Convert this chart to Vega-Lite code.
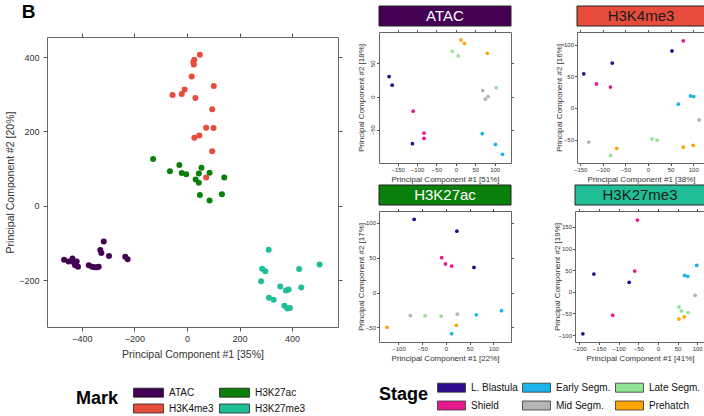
{
  "$schema": "https://vega.github.io/schema/vega-lite/v6.json",
  "padding": {"left": 4, "top": 2, "right": 0, "bottom": 0},
  "background": "#ffffff",
  "config": {
    "font": "Liberation Sans",
    "view": {"stroke": "#666666", "strokeWidth": 1},
    "axis": {
      "grid": false, "domain": false, "tickColor": "#555555", "tickSize": 2.5,
      "labelColor": "#333333", "titleColor": "#333333", "titleFontWeight": "normal",
      "labelFontSize": 6, "titleFontSize": 8, "labelPadding": 1, "titlePadding": 2.5,
      "labelFont": "Liberation Sans", "titleFont": "Liberation Sans"
    },
    "axisLeft": {"minExtent": 11, "maxExtent": 11},
    "legend": {"padding": 0}
  },
  "datasets": {
    "main": [
      {"Mark": "ATAC", "PC1": -468, "PC2": -145}, {"Mark": "ATAC", "PC1": -451, "PC2": -150},
      {"Mark": "ATAC", "PC1": -436, "PC2": -142}, {"Mark": "ATAC", "PC1": -432, "PC2": -152},
      {"Mark": "ATAC", "PC1": -420, "PC2": -150}, {"Mark": "ATAC", "PC1": -426, "PC2": -160},
      {"Mark": "ATAC", "PC1": -415, "PC2": -164}, {"Mark": "ATAC", "PC1": -374, "PC2": -160},
      {"Mark": "ATAC", "PC1": -362, "PC2": -164}, {"Mark": "ATAC", "PC1": -352, "PC2": -165},
      {"Mark": "ATAC", "PC1": -343, "PC2": -165}, {"Mark": "ATAC", "PC1": -336, "PC2": -164},
      {"Mark": "ATAC", "PC1": -317, "PC2": -96}, {"Mark": "ATAC", "PC1": -330, "PC2": -119},
      {"Mark": "ATAC", "PC1": -326, "PC2": -127}, {"Mark": "ATAC", "PC1": -297, "PC2": -135},
      {"Mark": "ATAC", "PC1": -235, "PC2": -137}, {"Mark": "ATAC", "PC1": -226, "PC2": -144},
      {"Mark": "H3K27ac", "PC1": -129, "PC2": 126}, {"Mark": "H3K27ac", "PC1": -29, "PC2": 110},
      {"Mark": "H3K27ac", "PC1": -65, "PC2": 93}, {"Mark": "H3K27ac", "PC1": -20, "PC2": 88},
      {"Mark": "H3K27ac", "PC1": -3, "PC2": 85}, {"Mark": "H3K27ac", "PC1": 55, "PC2": 102},
      {"Mark": "H3K27ac", "PC1": 45, "PC2": 87}, {"Mark": "H3K27ac", "PC1": 86, "PC2": 89},
      {"Mark": "H3K27ac", "PC1": 33, "PC2": 71}, {"Mark": "H3K27ac", "PC1": 45, "PC2": 62},
      {"Mark": "H3K27ac", "PC1": 142, "PC2": 76}, {"Mark": "H3K27ac", "PC1": 49, "PC2": 29},
      {"Mark": "H3K27ac", "PC1": 133, "PC2": 31}, {"Mark": "H3K27ac", "PC1": 86, "PC2": 14},
      {"Mark": "H3K4me3", "PC1": 49, "PC2": 406}, {"Mark": "H3K4me3", "PC1": 28, "PC2": 393},
      {"Mark": "H3K4me3", "PC1": 24, "PC2": 387}, {"Mark": "H3K4me3", "PC1": 26, "PC2": 380},
      {"Mark": "H3K4me3", "PC1": 18, "PC2": 348}, {"Mark": "H3K4me3", "PC1": -9, "PC2": 313},
      {"Mark": "H3K4me3", "PC1": -20, "PC2": 301}, {"Mark": "H3K4me3", "PC1": -55, "PC2": 298},
      {"Mark": "H3K4me3", "PC1": 32, "PC2": 290}, {"Mark": "H3K4me3", "PC1": 102, "PC2": 322},
      {"Mark": "H3K4me3", "PC1": 96, "PC2": 260}, {"Mark": "H3K4me3", "PC1": 73, "PC2": 210},
      {"Mark": "H3K4me3", "PC1": 101, "PC2": 209}, {"Mark": "H3K4me3", "PC1": 47, "PC2": 189},
      {"Mark": "H3K4me3", "PC1": 28, "PC2": 183}, {"Mark": "H3K4me3", "PC1": 96, "PC2": 147},
      {"Mark": "H3K4me3", "PC1": 73, "PC2": 76},
      {"Mark": "H3K27me3", "PC1": 311, "PC2": -118}, {"Mark": "H3K27me3", "PC1": 505, "PC2": -158},
      {"Mark": "H3K27me3", "PC1": 286, "PC2": -169}, {"Mark": "H3K27me3", "PC1": 298, "PC2": -176},
      {"Mark": "H3K27me3", "PC1": 282, "PC2": -203}, {"Mark": "H3K27me3", "PC1": 427, "PC2": -170},
      {"Mark": "H3K27me3", "PC1": 435, "PC2": -220}, {"Mark": "H3K27me3", "PC1": 355, "PC2": -217},
      {"Mark": "H3K27me3", "PC1": 377, "PC2": -228}, {"Mark": "H3K27me3", "PC1": 387, "PC2": -225},
      {"Mark": "H3K27me3", "PC1": 312, "PC2": -247}, {"Mark": "H3K27me3", "PC1": 330, "PC2": -253},
      {"Mark": "H3K27me3", "PC1": 371, "PC2": -269}, {"Mark": "H3K27me3", "PC1": 382, "PC2": -276},
      {"Mark": "H3K27me3", "PC1": 392, "PC2": -275}
    ],
    "stage": [
      {"Mark": "ATAC", "Stage": "L. Blastula", "PC1": -172, "PC2": 30},
      {"Mark": "ATAC", "Stage": "L. Blastula", "PC1": -164, "PC2": 17},
      {"Mark": "ATAC", "Stage": "L. Blastula", "PC1": -112, "PC2": -71},
      {"Mark": "ATAC", "Stage": "Shield", "PC1": -110, "PC2": -22},
      {"Mark": "ATAC", "Stage": "Shield", "PC1": -82, "PC2": -55},
      {"Mark": "ATAC", "Stage": "Shield", "PC1": -82, "PC2": -63},
      {"Mark": "ATAC", "Stage": "Early Segm.", "PC1": 68, "PC2": -56},
      {"Mark": "ATAC", "Stage": "Early Segm.", "PC1": 102, "PC2": -72},
      {"Mark": "ATAC", "Stage": "Early Segm.", "PC1": 120, "PC2": -87},
      {"Mark": "ATAC", "Stage": "Mid Segm.", "PC1": 69, "PC2": 9},
      {"Mark": "ATAC", "Stage": "Mid Segm.", "PC1": 76, "PC2": -4},
      {"Mark": "ATAC", "Stage": "Mid Segm.", "PC1": 83, "PC2": 0},
      {"Mark": "ATAC", "Stage": "Late Segm.", "PC1": -9, "PC2": 68},
      {"Mark": "ATAC", "Stage": "Late Segm.", "PC1": 6, "PC2": 61},
      {"Mark": "ATAC", "Stage": "Late Segm.", "PC1": 104, "PC2": 13},
      {"Mark": "ATAC", "Stage": "Prehatch", "PC1": 13, "PC2": 85},
      {"Mark": "ATAC", "Stage": "Prehatch", "PC1": 22, "PC2": 80},
      {"Mark": "ATAC", "Stage": "Prehatch", "PC1": 81, "PC2": 65},
      {"Mark": "H3K4me3", "Stage": "L. Blastula", "PC1": -142, "PC2": 54},
      {"Mark": "H3K4me3", "Stage": "L. Blastula", "PC1": -79, "PC2": 71},
      {"Mark": "H3K4me3", "Stage": "L. Blastula", "PC1": 53, "PC2": 90},
      {"Mark": "H3K4me3", "Stage": "Shield", "PC1": -114, "PC2": 38},
      {"Mark": "H3K4me3", "Stage": "Shield", "PC1": -83, "PC2": 33},
      {"Mark": "H3K4me3", "Stage": "Shield", "PC1": 78, "PC2": 106},
      {"Mark": "H3K4me3", "Stage": "Early Segm.", "PC1": 67, "PC2": 6},
      {"Mark": "H3K4me3", "Stage": "Early Segm.", "PC1": 94, "PC2": 19},
      {"Mark": "H3K4me3", "Stage": "Early Segm.", "PC1": 101, "PC2": 18},
      {"Mark": "H3K4me3", "Stage": "Mid Segm.", "PC1": -131, "PC2": -54},
      {"Mark": "H3K4me3", "Stage": "Mid Segm.", "PC1": 113, "PC2": -19},
      {"Mark": "H3K4me3", "Stage": "Late Segm.", "PC1": -83, "PC2": -75},
      {"Mark": "H3K4me3", "Stage": "Late Segm.", "PC1": 9, "PC2": -49},
      {"Mark": "H3K4me3", "Stage": "Late Segm.", "PC1": 20, "PC2": -51},
      {"Mark": "H3K4me3", "Stage": "Prehatch", "PC1": -69, "PC2": -64},
      {"Mark": "H3K4me3", "Stage": "Prehatch", "PC1": 78, "PC2": -62},
      {"Mark": "H3K4me3", "Stage": "Prehatch", "PC1": 100, "PC2": -59},
      {"Mark": "H3K27ac", "Stage": "L. Blastula", "PC1": -67, "PC2": 105},
      {"Mark": "H3K27ac", "Stage": "L. Blastula", "PC1": 23, "PC2": 88},
      {"Mark": "H3K27ac", "Stage": "L. Blastula", "PC1": 59, "PC2": 36},
      {"Mark": "H3K27ac", "Stage": "Shield", "PC1": -9, "PC2": 50},
      {"Mark": "H3K27ac", "Stage": "Shield", "PC1": -1, "PC2": 41},
      {"Mark": "H3K27ac", "Stage": "Shield", "PC1": 12, "PC2": 38},
      {"Mark": "H3K27ac", "Stage": "Early Segm.", "PC1": 64, "PC2": -32},
      {"Mark": "H3K27ac", "Stage": "Early Segm.", "PC1": 117, "PC2": -26},
      {"Mark": "H3K27ac", "Stage": "Early Segm.", "PC1": 12, "PC2": -59},
      {"Mark": "H3K27ac", "Stage": "Mid Segm.", "PC1": -75, "PC2": -33},
      {"Mark": "H3K27ac", "Stage": "Mid Segm.", "PC1": 24, "PC2": -31},
      {"Mark": "H3K27ac", "Stage": "Late Segm.", "PC1": -44, "PC2": -33},
      {"Mark": "H3K27ac", "Stage": "Late Segm.", "PC1": -10, "PC2": -34},
      {"Mark": "H3K27ac", "Stage": "Prehatch", "PC1": -124, "PC2": -50},
      {"Mark": "H3K27ac", "Stage": "Prehatch", "PC1": 22, "PC2": -47},
      {"Mark": "H3K27me3", "Stage": "L. Blastula", "PC1": -191, "PC2": -97},
      {"Mark": "H3K27me3", "Stage": "L. Blastula", "PC1": -163, "PC2": 41},
      {"Mark": "H3K27me3", "Stage": "L. Blastula", "PC1": -73, "PC2": 22},
      {"Mark": "H3K27me3", "Stage": "Shield", "PC1": -115, "PC2": -54},
      {"Mark": "H3K27me3", "Stage": "Shield", "PC1": -59, "PC2": 48},
      {"Mark": "H3K27me3", "Stage": "Shield", "PC1": -52, "PC2": 166},
      {"Mark": "H3K27me3", "Stage": "Early Segm.", "PC1": 99, "PC2": 61},
      {"Mark": "H3K27me3", "Stage": "Early Segm.", "PC1": 68, "PC2": 38},
      {"Mark": "H3K27me3", "Stage": "Early Segm.", "PC1": 76, "PC2": 36},
      {"Mark": "H3K27me3", "Stage": "Mid Segm.", "PC1": 95, "PC2": -8},
      {"Mark": "H3K27me3", "Stage": "Late Segm.", "PC1": 54, "PC2": -35},
      {"Mark": "H3K27me3", "Stage": "Late Segm.", "PC1": 60, "PC2": -44},
      {"Mark": "H3K27me3", "Stage": "Late Segm.", "PC1": 77, "PC2": -48},
      {"Mark": "H3K27me3", "Stage": "Prehatch", "PC1": 54, "PC2": -63},
      {"Mark": "H3K27me3", "Stage": "Prehatch", "PC1": 67, "PC2": -58}
    ]
  },
  "hconcat": [
    {
      "vconcat": [
        {
          "width": 291, "height": 20, "view": {"stroke": null},
          "data": {"values": [{"panel": "B", "v": 0}]},
          "mark": {"type": "point", "opacity": 0},
          "encoding": {
            "y": {"field": "v", "type": "quantitative",
                  "axis": {"orient": "left", "title": "B", "labels": false, "ticks": false, "domain": false, "minExtent": 0, "maxExtent": 0,
                           "titleAngle": 0, "titleX": -19, "titleY": 11, "titleAlign": "center", "titleBaseline": "alphabetic",
                           "titleFontSize": 19, "titleFontWeight": "bold", "titleColor": "#000000"}}
          }
        },
        {
          "width": 291, "height": 290,
          "data": {"name": "main"},
          "layer": [
            {
              "mark": {"type": "point", "filled": true, "opacity": 1, "size": 36},
              "encoding": {
                "x": {"field": "PC1", "type": "quantitative", "scale": {"domain": [-533, 575], "nice": false, "zero": false},
                      "axis": {"orient": "bottom", "values": [-400, -200, 0, 200, 400], "title": "Principal Component #1 [35%]", "tickSize": 4, "labelFontSize": 9, "titleFontSize": 10.5, "labelPadding": 3, "titlePadding": 6}},
                "y": {"field": "PC2", "type": "quantitative", "scale": {"domain": [-326, 454], "nice": false, "zero": false},
                      "axis": {"orient": "left", "values": [-200, 0, 200, 400], "title": "Principal Component #2 [20%]", "tickSize": 4, "labelFontSize": 9, "titleFontSize": 10.5, "labelPadding": 4, "titlePadding": 6, "minExtent": 26, "maxExtent": 26}},
                "color": {"field": "Mark", "type": "nominal",
                          "scale": {"domain": ["ATAC", "H3K4me3", "H3K27ac", "H3K27me3"], "range": ["#440154", "#e74c3c", "#0a800a", "#1fbe96"]},
                          "legend": {"orient": "none", "legendX": 29, "legendY": 347, "title": "Mark", "titleOrient": "left", "titleFontSize": 18, "titleFontWeight": "bold", "titleColor": "#000000", "titlePadding": 21, "columns": 2, "columnPadding": 3, "rowPadding": 1,
                                     "symbolType": "M-1.875,-0.5625H1.875V0.5625H-1.875Z", "symbolSize": 256, "symbolStrokeColor": "#222222", "symbolStrokeWidth": 0.8, "symbolOpacity": 1,
                                     "labelFontSize": 10, "labelOffset": 12, "labelColor": "#111111"}}
              }
            },
            {
              "mark": {"type": "point", "opacity": 0},
              "encoding": {
                "x": {"field": "PC1", "type": "quantitative", "axis": {"orient": "top", "values": [-400, -200, 0, 200, 400], "labels": false, "title": null, "tickSize": 4}},
                "y": {"field": "PC2", "type": "quantitative", "axis": {"orient": "right", "values": [-200, 0, 200, 400], "labels": false, "title": null, "tickSize": 4}}
              }
            }
          ],
          "resolve": {"axis": {"x": "independent", "y": "independent"}}
        }
      ],
      "spacing": 6,
      "resolve": {"scale": {"color": "independent"}, "legend": {"color": "independent"}}
    },
    {
      "vconcat": [
        {
          "hconcat": [
            {
              "vconcat": [
                {
                  "width": 132, "height": 20, "data": {"values": [{"Mark": "ATAC"}]}, "view": {"stroke": null},
                  "layer": [
                    {"mark": {"type": "rect", "stroke": "#222222", "strokeWidth": 1},
                     "encoding": {"x": {"field": "Mark", "type": "nominal", "axis": null, "scale": {"paddingInner": 0, "paddingOuter": 0}},
                                  "color": {"field": "Mark", "type": "nominal", "scale": {"domain": ["ATAC", "H3K27ac", "H3K4me3", "H3K27me3"], "range": ["#440154", "#0a800a", "#e74c3c", "#1fbe96"]}, "legend": null}}},
                    {"mark": {"type": "text", "fontSize": 15, "color": "#ffffff"},
                     "encoding": {"x": {"field": "Mark", "type": "nominal", "axis": null}, "text": {"field": "Mark"}}}
                  ]
                },
                {
                  "width": 132, "height": 131, "data": {"name": "stage"},
                  "transform": [{"filter": "datum.Mark === 'ATAC'"}],
                  "layer": [
                    {"mark": {"type": "point", "filled": true, "opacity": 1, "size": 14},
                     "encoding": {
                       "x": {"field": "PC1", "type": "quantitative", "scale": {"domain": [-198, 142], "nice": false, "zero": false}, "axis": {"orient": "bottom", "values": [-150, -100, -50, 0, 50, 100], "title": "Principal Component #1 [51%]"}},
                       "y": {"field": "PC2", "type": "quantitative", "scale": {"domain": [-100, 97], "nice": false, "zero": false}, "axis": {"orient": "left", "values": [-50, 0, 50], "title": "Principal Component #2 [18%]", "labelAngle": -90}},
                       "color": {"field": "Stage", "type": "nominal", "scale": {"domain": ["L. Blastula", "Shield", "Early Segm.", "Mid Segm.", "Late Segm.", "Prehatch"], "range": ["#2d0a8c", "#e6198c", "#1cb4e8", "#b5b5b5", "#93e593", "#ffa500"]}, "legend": null}
                     }},
                    {"mark": {"type": "point", "opacity": 0},
                     "encoding": {
                       "x": {"field": "PC1", "type": "quantitative", "axis": {"orient": "top", "values": [-150, -100, -50, 0, 50, 100], "labels": false, "title": null}},
                       "y": {"field": "PC2", "type": "quantitative", "axis": {"orient": "right", "values": [-50, 0, 50], "labels": false, "title": null}}
                     }}
                  ],
                  "resolve": {"axis": {"x": "independent", "y": "independent"}}
                }
              ],
              "spacing": 6, "bounds": "flush",
              "resolve": {"scale": {"color": "independent"}, "legend": {"color": "independent"}}
            },
            {
              "vconcat": [
                {
                  "width": 128, "height": 20, "data": {"values": [{"Mark": "H3K4me3"}]}, "view": {"stroke": null},
                  "layer": [
                    {"mark": {"type": "rect", "stroke": "#222222", "strokeWidth": 1},
                     "encoding": {"x": {"field": "Mark", "type": "nominal", "axis": null, "scale": {"paddingInner": 0, "paddingOuter": 0}},
                                  "color": {"field": "Mark", "type": "nominal", "scale": {"domain": ["ATAC", "H3K27ac", "H3K4me3", "H3K27me3"], "range": ["#440154", "#0a800a", "#e74c3c", "#1fbe96"]}, "legend": null}}},
                    {"mark": {"type": "text", "fontSize": 15, "color": "#1a1a1a"},
                     "encoding": {"x": {"field": "Mark", "type": "nominal", "axis": null}, "text": {"field": "Mark"}}}
                  ]
                },
                {
                  "width": 128, "height": 131, "data": {"name": "stage"},
                  "transform": [{"filter": "datum.Mark === 'H3K4me3'"}],
                  "layer": [
                    {"mark": {"type": "point", "filled": true, "opacity": 1, "size": 14},
                     "encoding": {
                       "x": {"field": "PC1", "type": "quantitative", "scale": {"domain": [-157, 126], "nice": false, "zero": false}, "axis": {"orient": "bottom", "values": [-150, -100, -50, 0, 50, 100], "title": "Principal Component #1 [38%]"}},
                       "y": {"field": "PC2", "type": "quantitative", "scale": {"domain": [-87, 120], "nice": false, "zero": false}, "axis": {"orient": "left", "values": [-50, 0, 50, 100], "title": "Principal Component #2 [16%]"}},
                       "color": {"field": "Stage", "type": "nominal", "scale": {"domain": ["L. Blastula", "Shield", "Early Segm.", "Mid Segm.", "Late Segm.", "Prehatch"], "range": ["#2d0a8c", "#e6198c", "#1cb4e8", "#b5b5b5", "#93e593", "#ffa500"]}, "legend": null}
                     }},
                    {"mark": {"type": "point", "opacity": 0},
                     "encoding": {
                       "x": {"field": "PC1", "type": "quantitative", "axis": {"orient": "top", "values": [-150, -100, -50, 0, 50, 100], "labels": false, "title": null}},
                       "y": {"field": "PC2", "type": "quantitative", "axis": {"orient": "right", "values": [-50, 0, 50, 100], "labels": false, "title": null}}
                     }}
                  ],
                  "resolve": {"axis": {"x": "independent", "y": "independent"}}
                }
              ],
              "spacing": 6, "bounds": "flush",
              "resolve": {"scale": {"color": "independent"}, "legend": {"color": "independent"}}
            }
          ],
          "spacing": 40,
          "resolve": {"scale": {"color": "independent"}, "legend": {"color": "independent"}}
        },
        {
          "hconcat": [
            {
              "vconcat": [
                {
                  "width": 132, "height": 20, "data": {"values": [{"Mark": "H3K27ac"}]}, "view": {"stroke": null},
                  "layer": [
                    {"mark": {"type": "rect", "stroke": "#222222", "strokeWidth": 1},
                     "encoding": {"x": {"field": "Mark", "type": "nominal", "axis": null, "scale": {"paddingInner": 0, "paddingOuter": 0}},
                                  "color": {"field": "Mark", "type": "nominal", "scale": {"domain": ["ATAC", "H3K27ac", "H3K4me3", "H3K27me3"], "range": ["#440154", "#0a800a", "#e74c3c", "#1fbe96"]}, "legend": null}}},
                    {"mark": {"type": "text", "fontSize": 15, "color": "#ffffff"},
                     "encoding": {"x": {"field": "Mark", "type": "nominal", "axis": null}, "text": {"field": "Mark"}}}
                  ]
                },
                {
                  "width": 132, "height": 131, "data": {"name": "stage"},
                  "transform": [{"filter": "datum.Mark === 'H3K27ac'"}],
                  "layer": [
                    {"mark": {"type": "point", "filled": true, "opacity": 1, "size": 14},
                     "encoding": {
                       "x": {"field": "PC1", "type": "quantitative", "scale": {"domain": [-141, 137], "nice": false, "zero": false}, "axis": {"orient": "bottom", "values": [-100, -50, 0, 50, 100], "title": "Principal Component #1 [22%]"}},
                       "y": {"field": "PC2", "type": "quantitative", "scale": {"domain": [-71, 117], "nice": false, "zero": false}, "axis": {"orient": "left", "values": [-50, 0, 50, 100], "title": "Principal Component #2 [17%]"}},
                       "color": {"field": "Stage", "type": "nominal", "scale": {"domain": ["L. Blastula", "Shield", "Early Segm.", "Mid Segm.", "Late Segm.", "Prehatch"], "range": ["#2d0a8c", "#e6198c", "#1cb4e8", "#b5b5b5", "#93e593", "#ffa500"]}, "legend": null}
                     }},
                    {"mark": {"type": "point", "opacity": 0},
                     "encoding": {
                       "x": {"field": "PC1", "type": "quantitative", "axis": {"orient": "top", "values": [-100, -50, 0, 50, 100], "labels": false, "title": null}},
                       "y": {"field": "PC2", "type": "quantitative", "axis": {"orient": "right", "values": [-50, 0, 50, 100], "labels": false, "title": null}}
                     }}
                  ],
                  "resolve": {"axis": {"x": "independent", "y": "independent"}}
                }
              ],
              "spacing": 6, "bounds": "flush",
              "resolve": {"scale": {"color": "independent"}, "legend": {"color": "independent"}}
            },
            {
              "vconcat": [
                {
                  "width": 130, "height": 20, "data": {"values": [{"Mark": "H3K27me3"}]}, "view": {"stroke": null},
                  "layer": [
                    {"mark": {"type": "rect", "stroke": "#222222", "strokeWidth": 1},
                     "encoding": {"x": {"field": "Mark", "type": "nominal", "axis": null, "scale": {"paddingInner": 0, "paddingOuter": 0}},
                                  "color": {"field": "Mark", "type": "nominal", "scale": {"domain": ["ATAC", "H3K27ac", "H3K4me3", "H3K27me3"], "range": ["#440154", "#0a800a", "#e74c3c", "#1fbe96"]}, "legend": null}}},
                    {"mark": {"type": "text", "fontSize": 15, "color": "#1a1a1a"},
                     "encoding": {"x": {"field": "Mark", "type": "nominal", "axis": null}, "text": {"field": "Mark"}}}
                  ]
                },
                {
                  "width": 130, "height": 131, "data": {"name": "stage"},
                  "transform": [{"filter": "datum.Mark === 'H3K27me3'"}],
                  "layer": [
                    {"mark": {"type": "point", "filled": true, "opacity": 1, "size": 14},
                     "encoding": {
                       "x": {"field": "PC1", "type": "quantitative", "scale": {"domain": [-211, 120], "nice": false, "zero": false}, "axis": {"orient": "bottom", "values": [-200, -150, -100, -50, 0, 50, 100], "title": "Principal Component #1 [41%]"}},
                       "y": {"field": "PC2", "type": "quantitative", "scale": {"domain": [-116, 187], "nice": false, "zero": false}, "axis": {"orient": "left", "values": [-100, -50, 0, 50, 100, 150], "title": "Principal Component #2 [19%]"}},
                       "color": {"field": "Stage", "type": "nominal", "scale": {"domain": ["L. Blastula", "Shield", "Early Segm.", "Mid Segm.", "Late Segm.", "Prehatch"], "range": ["#2d0a8c", "#e6198c", "#1cb4e8", "#b5b5b5", "#93e593", "#ffa500"]}, "legend": null}
                     }},
                    {"mark": {"type": "point", "opacity": 0},
                     "encoding": {
                       "x": {"field": "PC1", "type": "quantitative", "axis": {"orient": "top", "values": [-200, -150, -100, -50, 0, 50, 100], "labels": false, "title": null}},
                       "y": {"field": "PC2", "type": "quantitative", "axis": {"orient": "right", "values": [-100, -50, 0, 50, 100, 150], "labels": false, "title": null}}
                     }}
                  ],
                  "resolve": {"axis": {"x": "independent", "y": "independent"}}
                }
              ],
              "spacing": 6, "bounds": "flush",
              "resolve": {"scale": {"color": "independent"}, "legend": {"color": "independent"}}
            }
          ],
          "spacing": 38,
          "resolve": {"scale": {"color": "independent"}, "legend": {"color": "independent"}}
        },
        {
          "width": 1, "height": 1, "data": {"name": "stage"}, "view": {"stroke": null},
          "mark": {"type": "point", "opacity": 0, "filled": true},
          "encoding": {
            "color": {"field": "Stage", "type": "nominal", "scale": {"domain": ["L. Blastula", "Shield", "Early Segm.", "Mid Segm.", "Late Segm.", "Prehatch"], "range": ["#2d0a8c", "#e6198c", "#1cb4e8", "#b5b5b5", "#93e593", "#ffa500"]},
                      "legend": {"orient": "none", "legendX": 0, "legendY": 13, "title": "Stage", "titleOrient": "left", "titleFontSize": 18, "titleFontWeight": "bold", "titleColor": "#000000", "titlePadding": 14, "columns": 3, "columnPadding": 2, "rowPadding": 3,
                                 "symbolType": "M-1.75,-0.5625H1.75V0.5625H-1.75Z", "symbolSize": 256, "symbolStrokeColor": "#333333", "symbolStrokeWidth": 0.8, "symbolOpacity": 1,
                                 "labelFontSize": 10, "labelOffset": 11, "labelColor": "#111111"}}
          }
        }
      ],
      "spacing": 0,
      "resolve": {"scale": {"color": "independent"}, "legend": {"color": "independent"}}
    }
  ],
  "spacing": 14,
  "resolve": {"scale": {"color": "independent"}, "legend": {"color": "independent"}}
}
